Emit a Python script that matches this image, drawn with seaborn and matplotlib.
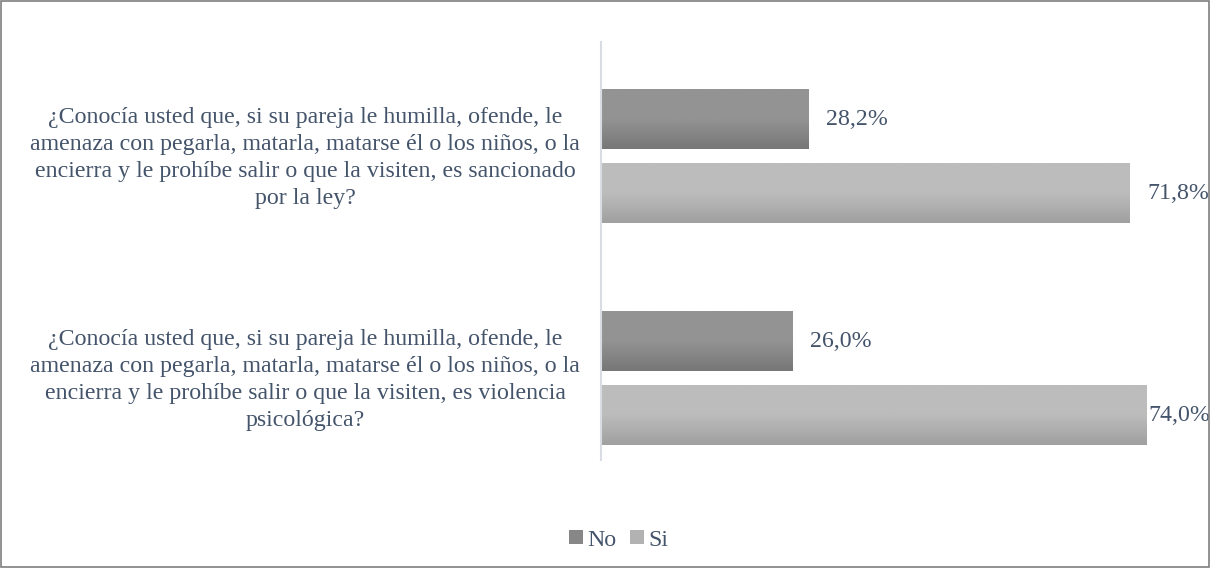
import numpy as np
import pandas as pd
import matplotlib
matplotlib.use("Agg")
import matplotlib.pyplot as plt
import matplotlib.transforms as mtransforms
import seaborn as sns
from matplotlib.patches import Patch, Rectangle

preguntas = [
    "¿Conocía usted que, si su pareja le humilla, ofende, le\n"
    "amenaza con pegarla, matarla, matarse él o los niños, o la\n"
    "encierra y le prohíbe salir o que la visiten, es sancionado\n"
    "por la ley?",
    "¿Conocía usted que, si su pareja le humilla, ofende, le\n"
    "amenaza con pegarla, matarla, matarse él o los niños, o la\n"
    "encierra y le prohíbe salir o que la visiten, es violencia\n"
    "psicológica?",
]
respuestas = ["No", "Si"]
valores_no = [28.2, 26.0]
valores_si = [71.8, 74.0]

df = pd.DataFrame({
    "pregunta": preguntas * 2,
    "respuesta": ["No"] * len(preguntas) + ["Si"] * len(preguntas),
    "porcentaje": valores_no + valores_si,
})

TEXT = "#44546A"
FS = 17.2
colores = {"No": "#878787", "Si": "#b2b2b2"}
degradados = {"No": ("#939393", "#777777"), "Si": ("#bcbcbc", "#a0a0a0")}

sns.set_theme(style="white")
plt.rcParams["font.family"] = ["Liberation Serif", "DejaVu Serif"]

W, H = 1211, 568
fig = plt.figure(figsize=(W / 100, H / 100), dpi=100)
ax = fig.add_axes([601 / W, 1 - 460 / H, 579 / W, 418 / H])

sns.barplot(data=df, y="pregunta", x="porcentaje", hue="respuesta",
            hue_order=respuestas, order=preguntas, palette=colores,
            orient="h", width=0.667, gap=0.19, legend=False, ax=ax,
            linewidth=0)

XMAX = 78.6
ax.set_xlim(0, XMAX)
ax.set_ylim(1.369, -0.514)

px_per_unit = 579 / XMAX
label_off = 17 / px_per_unit          # gap between bar end and its label
label_max = (1148 - 601) / px_per_unit  # keep labels inside the figure

# vertical gradient fill on each bar, clipped to the bar shape
for container, resp in zip(ax.containers, respuestas):
    top, bottom = degradados[resp]
    cmap = matplotlib.colors.LinearSegmentedColormap.from_list(
        resp, [top, top, bottom])
    grad = np.linspace(0, 1, 64).reshape(-1, 1)
    for bar in container:
        x0, y0 = bar.get_x(), bar.get_y()
        w, h = bar.get_width(), bar.get_height()
        im = ax.imshow(grad, cmap=cmap, aspect="auto",
                       extent=(x0, x0 + w, y0 + h, y0),
                       zorder=bar.get_zorder() + 0.1, interpolation="bilinear")
        im.set_clip_path(bar)
        ax.text(min(x0 + w + label_off, label_max), y0 + h / 2,
                f"{w:.1f}%".replace(".", ","), va="center", ha="left",
                fontsize=FS, color=TEXT, clip_on=False)

ax.set_xlim(0, XMAX)
ax.set_ylim(1.369, -0.514)

ax.set_xlabel("")
ax.set_ylabel("")
ax.set_xticks([])
ax.set_yticks(range(len(preguntas)))
ax.set_yticklabels(preguntas, ha="center", multialignment="center",
                   fontsize=FS, color=TEXT, linespacing=1.38)
ax.tick_params(axis="y", length=0, pad=213)

# nudge the question blocks slightly upward
lift = mtransforms.ScaledTranslation(0, 4 / 100, fig.dpi_scale_trans)
for lbl in ax.get_yticklabels():
    lbl.set_transform(lbl.get_transform() + lift)

for side in ["top", "right", "bottom"]:
    ax.spines[side].set_visible(False)
ax.spines["left"].set_color("#d9dde3")
ax.spines["left"].set_linewidth(1.5)

handles = [Patch(facecolor=colores[r], edgecolor="none", label=r) for r in respuestas]
fig.legend(handles=handles, loc="center", bbox_to_anchor=(618.5 / W, 1 - 540 / H),
           ncol=2, frameon=False, fontsize=FS, handlelength=0.58, handleheight=0.58,
           handletextpad=0.17, columnspacing=0.58, labelcolor=TEXT,
           borderaxespad=0, borderpad=0)

fig.patches.append(Rectangle((0.0005, 0.001), 0.998, 0.997, transform=fig.transFigure,
                             fill=False, edgecolor="#7f7f7f", linewidth=1.2))

fig.savefig("out.png", dpi=100)
